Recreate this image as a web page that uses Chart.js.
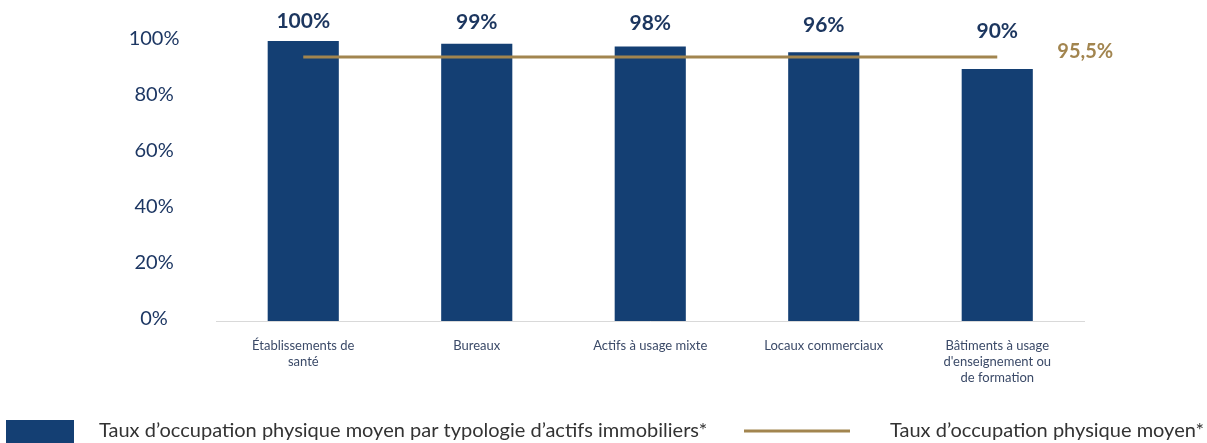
<!DOCTYPE html>
<html>
<head>
<meta charset="utf-8">
<script src="https://cdn.jsdelivr.net/npm/chart.js@4.4.1/dist/chart.umd.min.js"></script>
<style>
  html, body { margin: 0; padding: 0; background: #ffffff; }
  #wrap { width: 1207px; height: 443px; position: relative; }
</style>
</head>
<body>
<div id="wrap"><canvas id="occupation-chart"></canvas></div>
<script>
// ============= DATA =============
const categories = [
  ['Établissements de', 'santé'],
  'Bureaux',
  'Actifs à usage mixte',
  'Locaux commerciaux',
  ['Bâtiments à usage', "d'enseignement ou", 'de formation']
];
const typologyRates = [100, 99, 98, 96, 90];
const typologyLabels = ['100%', '99%', '98%', '96%', '90%'];
const averageRate = [94.3, 94.3, 94.3, 94.3, 94.3];
const averageLabel = '95,5%';
const yTicks = [0, 20, 40, 60, 80, 100];
const seriesNames = [
  'Taux d’occupation physique moyen par typologie d’actifs immobiliers*',
  'Taux d’occupation physique moyen*'
];

const NAVY = '#143f73';
const GOLD = '#a2854f';
const FONT = 'Lato, "Noto Sans", sans-serif';

// Labels above bars + the average label at the end of the line
const valueLabels = {
  id: 'valueLabels',
  afterDatasetsDraw(chart) {
    const ctx = chart.ctx;
    const top = chart.chartArea.top;
    ctx.save();
    ctx.textAlign = 'center';
    ctx.textBaseline = 'middle';
    ctx.font = 'bold 21px ' + FONT;
    ctx.fillStyle = '#1c365f';
    chart.getDatasetMeta(0).data.forEach((bar, i) => {
      const y = top - 20 + (bar.y - top) * 0.37;
      ctx.fillText(typologyLabels[i], bar.x, y);
    });
    const pts = chart.getDatasetMeta(1).data;
    const last = pts[pts.length - 1];
    ctx.font = 'bold 20px ' + FONT;
    ctx.fillStyle = GOLD;
    ctx.fillText(averageLabel, last.x + 88, last.y - 5);
    ctx.restore();
  }
};

// Custom legend at the bottom (box + line)
const bottomLegend = {
  id: 'bottomLegend',
  afterDraw(chart) {
    const ctx = chart.ctx;
    const ds = chart.data.datasets;
    ctx.save();
    ctx.fillStyle = ds[0].backgroundColor;
    ctx.fillRect(6, 420, 68, 23);
    ctx.strokeStyle = ds[1].borderColor;
    ctx.lineWidth = 3;
    ctx.beginPath();
    ctx.moveTo(744, 431);
    ctx.lineTo(850, 431);
    ctx.stroke();
    ctx.font = '20px ' + FONT;
    ctx.fillStyle = '#333333';
    ctx.textBaseline = 'middle';
    ctx.textAlign = 'left';
    ctx.fillText(ds[0].label, 99, 431);
    ctx.fillText(ds[1].label, 890, 431);
    ctx.restore();
  }
};

const ctx = document.getElementById('occupation-chart').getContext('2d');
const occupationChart = new Chart(ctx, {
  type: 'bar',
  data: {
    labels: categories,
    datasets: [
      {
        type: 'bar',
        label: seriesNames[0],
        data: typologyRates,
        backgroundColor: NAVY,
        borderWidth: 0,
        barPercentage: 0.41,
        categoryPercentage: 1,
        order: 1
      },
      {
        type: 'line',
        label: seriesNames[1],
        data: averageRate,
        borderColor: GOLD,
        borderWidth: 3,
        pointRadius: 0,
        fill: false,
        order: 0
      }
    ]
  },
  options: {
    responsive: true,
    maintainAspectRatio: false,
    animation: false,
    layout: { padding: { top: 41, right: 123, left: 0, bottom: 0 } },
    plugins: {
      legend: { display: false },
      tooltip: { enabled: false }
    },
    scales: {
      x: {
        grid: { display: false, drawTicks: false },
        border: { display: true, color: '#d9d9d9', width: 1 },
        ticks: {
          color: '#3b4a68',
          font: { family: FONT, size: 13, lineHeight: 1.23 },
          padding: 17,
          maxRotation: 0,
          autoSkip: false
        },
        afterFit: axis => { axis.height = 122; }
      },
      y: {
        min: 0,
        max: 100,
        grid: { display: false, drawTicks: false },
        border: { display: false },
        afterBuildTicks: axis => { axis.ticks = yTicks.map(v => ({ value: v })); },
        ticks: {
          color: '#1d3763',
          font: { family: FONT, size: 20 },
          crossAlign: 'center',
          padding: 37,
          labelOffset: -2,
          callback: v => v + '%'
        },
        afterFit: axis => {
          axis.width = 216.5;
          axis.paddingTop = 0;
          axis.paddingBottom = 0;
        }
      }
    }
  },
  plugins: [valueLabels, bottomLegend]
});
</script>
</body>
</html>
